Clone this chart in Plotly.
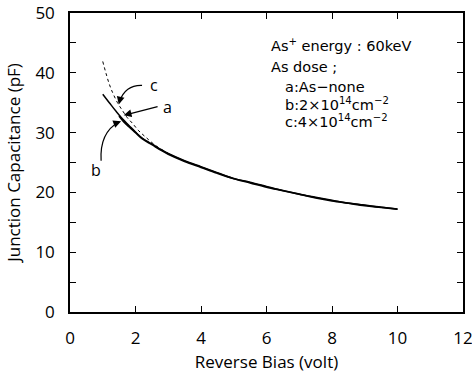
import plotly.graph_objects as go

# Data
bias_a = [1.0, 1.2, 1.4, 1.6, 1.8, 2.0, 2.2, 2.5, 2.8, 3.0, 3.5, 4.0, 4.5, 5.0, 5.5, 6.0, 6.5, 7.0, 7.5, 8.0, 8.5, 9.0, 9.5, 10.0]
cap_a = [36.4, 35.0, 33.6, 32.3, 31.2, 30.1, 29.1, 28.1, 27.1, 26.5, 25.3, 24.3, 23.3, 22.3, 21.7, 21.0, 20.3, 19.7, 19.2, 18.7, 18.2, 17.9, 17.5, 17.2]

bias_b = [1.5, 1.6, 1.8, 2.0, 2.2, 2.5, 2.8, 3.0, 3.5, 4.0, 4.5, 5.0, 5.5, 6.0, 6.5, 7.0, 7.5, 8.0, 8.5, 9.0, 9.5, 10.0]
cap_b = [32.8, 32.1, 31.0, 30.0, 29.0, 28.0, 27.0, 26.4, 25.2, 24.2, 23.2, 22.3, 21.6, 20.9, 20.3, 19.7, 19.1, 18.6, 18.2, 17.8, 17.5, 17.2]

bias_c = [1.0, 1.1, 1.2, 1.3, 1.45, 1.6, 1.75, 1.9, 2.1, 2.3, 2.6, 3.0]
cap_c = [41.9, 39.9, 38.1, 36.7, 35.0, 33.7, 32.5, 31.6, 30.3, 29.3, 27.9, 26.5]

x_ticks = [0, 2, 4, 6, 8, 10, 12]
y_ticks = [0, 10, 20, 30, 40, 50]

FONT = "Open Sans"
TFONT = "DejaVu Sans"

fig = go.Figure()
fig.add_trace(go.Scatter(x=bias_a, y=cap_a, mode="lines", line=dict(color="black", width=1.5, shape="spline"), showlegend=False))
fig.add_trace(go.Scatter(x=bias_b, y=cap_b, mode="lines", line=dict(color="black", width=1.8, shape="spline"), showlegend=False))
fig.add_trace(go.Scatter(x=bias_c, y=cap_c, mode="lines", line=dict(color="black", width=1, dash="dot", shape="spline"), showlegend=False))

# curved leader lines
fig.add_shape(type="path", path="M 2.2,37.9 Q 1.7,38.0 1.52,35.3", xref="x", yref="y", line=dict(color="black", width=1.2))
fig.add_shape(type="path", path="M 0.95,25.3 Q 0.9,30.0 1.5,31.8", xref="x", yref="y", line=dict(color="black", width=1.2))

# arrowheads / straight arrow
fig.add_annotation(x=1.49, y=34.7, ax=1.53, ay=35.6, xref="x", yref="y", axref="x", ayref="y", text="", showarrow=True, arrowhead=2, arrowsize=1.2, arrowwidth=1.3, arrowcolor="black")
fig.add_annotation(x=1.64, y=32.9, ax=2.72, ay=34.4, xref="x", yref="y", axref="x", ayref="y", text="", showarrow=True, arrowhead=2, arrowsize=1.2, arrowwidth=1.3, arrowcolor="black")
fig.add_annotation(x=1.56, y=31.9, ax=1.42, ay=31.6, xref="x", yref="y", axref="x", ayref="y", text="", showarrow=True, arrowhead=2, arrowsize=1.2, arrowwidth=1.3, arrowcolor="black")

# curve labels
lab = dict(xref="x", yref="y", showarrow=False, font=dict(family=FONT, size=16, color="black"))
fig.add_annotation(x=2.55, y=38.0, text="c", **lab)
fig.add_annotation(x=2.98, y=34.3, text="a", **lab)
fig.add_annotation(x=0.8, y=23.8, text="b", **lab)

TOP = 13
# text block
txt = dict(xref="paper", yref="paper", showarrow=False, xanchor="left", yanchor="middle", font=dict(family=TFONT, size=14.5, color="black"))
def px2paper(px, py):
    return (px - 70) / (463 - 70), (312 - py) / (312 - TOP)
for (px, py, t) in [(269, 45, "As<sup>+</sup> energy : 60keV"),
                    (269, 67, "As dose ;"),
                    (283, 87, "a:As\u2212none"),
                    (283, 104, "b:2\u00d710<sup>14</sup>cm<sup>\u22122</sup>"),
                    (283, 121, "c:4\u00d710<sup>14</sup>cm<sup>\u22122</sup>")]:
    xp, yp = px2paper(px, py)
    fig.add_annotation(x=xp, y=yp, text=t, **txt)

axis_common = dict(showline=True, linecolor="black", linewidth=1.5, mirror="ticks", ticks="inside",
                   ticklen=6, tickwidth=1.2, tickcolor="black", showgrid=False, zeroline=False,
                   automargin=False, ticklabeloverflow="allow",
                   tickfont=dict(family=FONT, size=17, color="black"))
fig.update_xaxes(range=[0, 12], tickvals=x_ticks, ticktext=[str(v) for v in x_ticks],
                 ticklabelstandoff=10,
                 title=dict(text="Reverse Bias (volt)", font=dict(family=FONT, size=17, color="black"), standoff=8),
                 **axis_common)
fig.update_yaxes(range=[0, 50], tickvals=y_ticks, ticktext=[str(v) for v in y_ticks],
                 ticklabelstandoff=10,
                 minor=dict(dtick=5, tick0=0, ticks="inside", ticklen=6, tickcolor="black", tickwidth=1.2),
                 title=dict(text="Junction Capacitance (pF)", font=dict(family=FONT, size=17, color="black"), standoff=10),
                 **axis_common)

fig.update_layout(width=472, height=383, margin=dict(l=70, r=9, t=TOP, b=71),
                  plot_bgcolor="white", paper_bgcolor="white")

fig.write_html("out.html")
